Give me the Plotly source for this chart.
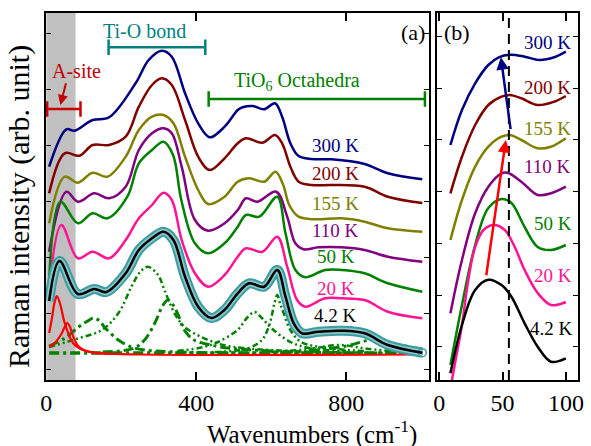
import plotly.graph_objects as go

# ---------------- Panel (a): Raman spectra (wavenumber, offset intensity) -------------
x300 = [7.4, 53.3, 75.2, 123.5, 167.5, 238, 273, 308, 334.6, 370, 405, 436, 475.5, 510.6, 523.7, 550, 581, 610, 629, 651, 673, 708, 761, 849, 911, 1003]
y300 = [213.3, 250.7, 249.3, 260, 262.7, 296.7, 320, 329.3, 323.3, 286.7, 256.7, 242.7, 253.3, 270, 272.7, 274, 270.7, 276.7, 263.3, 236.7, 224, 221, 220.7, 216, 206.7, 200.7]

x200 = [7.4, 48.8, 88.4, 123.5, 167.5, 211.6, 246.7, 281.8, 308, 334.6, 370, 405, 436, 475.5, 510.6, 532.5, 576.5, 610, 629, 651, 673, 708, 761, 849, 911, 1003]
y200 = [186.7, 226.7, 224.3, 235, 235, 243.3, 273.3, 295, 301.7, 295, 260, 223.3, 210, 221.7, 236.7, 241.7, 237.3, 245, 236.7, 213.3, 198.3, 195, 195, 193.3, 183.3, 177]

x155 = [7.4, 48.8, 84, 123.5, 163, 211.6, 246.7, 281.8, 312.5, 339, 370, 405, 431.4, 475.5, 510.6, 541.4, 581, 611.6, 632, 648, 673, 717, 787.6, 849, 911, 1003]
y155 = [156.7, 203.3, 197.3, 207.3, 203.3, 223.3, 250, 263.3, 265, 256.7, 223.3, 190, 176, 183.3, 198.3, 201.7, 198.3, 208.3, 195, 175, 163.3, 160.7, 161.7, 158.3, 151.7, 148.3]

x110 = [7.4, 53.3, 84, 128, 167.5, 211.6, 246.7, 281.8, 312.5, 334.6, 361, 396.3, 431.4, 475.5, 510.6, 532.5, 563, 613, 642.5, 664.4, 686.5, 726, 787.6, 849, 911, 1003]
y110 = [128.3, 188.3, 178.3, 186.7, 181.7, 193.3, 230, 246.7, 251.7, 246.7, 213.3, 160, 149.3, 156.7, 170, 181.7, 178.3, 188.3, 163.3, 136.7, 130.7, 132.7, 132.7, 130, 123.3, 118.3]

x50 = [7.4, 37.5, 84, 123.5, 163, 216, 246.7, 281.8, 312.5, 338, 360, 396.3, 431.4, 475.5, 510.6, 532.5, 568, 616, 638, 664.4, 690.8, 743.5, 787.6, 849, 911, 1003]
y50 = [100, 178.3, 156.7, 166.7, 161.7, 183.3, 216.7, 230, 238.3, 225, 180, 136.7, 126.7, 136.7, 153.3, 165, 163.3, 183.3, 146.7, 110, 102.7, 110, 110, 106.7, 96.7, 88.3]

x20 = [7.4, 40, 84, 123.5, 167.5, 211.6, 246.7, 281.8, 312.5, 334.6, 361, 396.3, 431.4, 475.5, 510.6, 532.5, 576.5, 616, 642.5, 669, 690.8, 743.5, 787.6, 849, 911, 1003]
y20 = [90, 155, 121.7, 128.3, 121.7, 140, 161.7, 175, 187.3, 180, 140, 106.7, 93.3, 105, 123.3, 131.7, 128.3, 143.3, 113.3, 80, 73.3, 81.7, 81.7, 80, 68.3, 61.7]

x4 = [7.4, 35, 84, 128, 160, 211.6, 246.7, 281.8, 312.5, 339, 370, 405, 440, 475, 510.6, 541.4, 581, 616, 638, 660, 682, 726, 787.6, 849, 911, 1003]
y4 = [79, 119, 86, 91, 88, 106.7, 130, 141.7, 148.3, 140, 103.3, 73.3, 62, 70, 86.7, 96.7, 93.3, 110, 83.3, 56.7, 46.7, 48.3, 49.3, 46.7, 35, 27.3]

# fit components at 4.2 K (A-site: red; TiO6 / Ti-O modes: green)
r1_x = [7.4, 15, 22, 28, 36, 49, 71, 97, 141, 250, 1003]
r1_y = [47, 62, 78, 84, 77, 57, 37, 30, 27, 25.5, 25.5]
r2_x = [7.4, 25, 40, 50, 55, 62, 71, 85, 100, 130, 200]
r2_y = [33, 38, 46, 54, 57, 54, 44, 34, 30, 27, 26]

g1_x = [7.4, 50, 86, 110, 126, 142, 157, 192, 227, 262, 350, 500, 1003]
g1_y = [34, 42, 53, 59, 62, 59, 52, 40, 33, 30, 28, 27, 26.5]
g2_x = [7.4, 86, 148, 192, 227, 250, 271, 298, 315, 342, 368, 412, 456, 500, 650, 1003]
g2_y = [33, 41.7, 50, 66.7, 93.3, 108, 113.3, 105, 90, 66.7, 53.3, 43.3, 36.7, 33, 29, 27]
g3_x = [150, 232, 262, 289, 310, 324, 338, 350, 368, 394, 438, 491, 600, 800]
g3_y = [28, 31.7, 40, 56.7, 74, 80, 75, 66.7, 50, 40, 35, 31.7, 29, 27]
g4_x = [350, 420, 458, 510, 535, 555, 575, 600, 651, 700, 800]
g4_y = [29, 33, 38, 50, 62, 68, 62, 52, 38, 32, 29]
g5_x = [450, 540, 575, 590, 600, 608, 616, 624, 634, 651, 680, 750, 850]
g5_y = [28, 32, 40, 50, 62, 76, 85, 76, 66, 50, 38, 32, 29]
g6_x = [600, 700, 780, 860, 950]
g6_y = [28, 31, 35, 31, 28]
g7_x = [700, 800, 870, 940, 1003]
g7_y = [29, 34, 40, 35, 31]
gb_x = [7.4, 1003]
gb_y = [27, 27]

# ---------------- Panel (b): low-wavenumber zoom ----------------
xb300 = [8.9, 18, 28.4, 38.8, 47, 56, 67.4, 79, 90.7, 99.9]
yb300 = [235, 270, 296.7, 315, 322.7, 325.3, 323.3, 320, 322.7, 328.3]
xb200 = [8.9, 18, 28.4, 38.8, 49.2, 55.7, 64.8, 77.7, 90.7, 99.9]
yb200 = [186.7, 223.3, 255, 275, 283.3, 285, 281.7, 275, 278.3, 284]
xb155 = [8.9, 18, 28.4, 38.8, 49.2, 55.7, 64.8, 77.7, 88.2, 99.9]
yb155 = [140, 180, 213.3, 233.3, 243.3, 245, 240, 231.7, 233.3, 241.7]
xb110 = [8.9, 18, 28.4, 38.8, 49.2, 54, 64.8, 77.7, 88.2, 99.9]
yb110 = [66.7, 120, 166.7, 193.3, 206.7, 207.3, 198.3, 185, 186.7, 193.3]
xb50 = [8.9, 18, 28.4, 38.8, 49.5, 57, 67.4, 77.7, 88.2, 99.9]
yb50 = [15, 75, 135, 172, 181, 177, 153, 133, 130, 135]
xb20 = [8.9, 13, 18, 23, 28.4, 35, 43, 51.8, 59.6, 67.4, 77.7, 88.2, 99.9]
yb20 = [-8, 20, 55, 100, 133, 150, 155, 150, 133, 110, 87, 75, 78]
xb4 = [8.9, 18, 28.4, 38.8, 49.2, 57, 67.4, 77.7, 88.2, 99.9]
yb4 = [6.7, 55, 90, 100.3, 95, 83.3, 56.7, 33.3, 18.3, 21.7]

temps = ["300 K", "200 K", "155 K", "110 K", "50 K", "20 K", "4.2 K"]
colors = ["#000080", "#800000", "#808000", "#800080", "#008000", "#ff1493", "#000000"]

# region brackets (wavenumber extents)
asite_range = [2, 91]
tio_range = [166, 424]
oct_range = [433, 1010]
band_range = [0, 78]
dash_pos = 55

FONT = "Liberation Serif"
fig = go.Figure()

# ---- components
td = "10px,4px,3px,4px"
fd = "6px,3px,2px,3px,2px,3px"
comp = [
    (gb_x, gb_y, "#008000", 3.5, td),
    (g1_x, g1_y, "#008000", 3, td),
    (g2_x, g2_y, "#008000", 2.5, fd),
    (g3_x, g3_y, "#008000", 3, td),
    (g4_x, g4_y, "#008000", 2.5, fd),
    (g5_x, g5_y, "#008000", 2.5, fd),
    (g6_x, g6_y, "#008000", 2.5, fd),
    (g7_x, g7_y, "#008000", 3, td),
    (r1_x, r1_y, "#ff0000", 2.2, "solid"),
    (r2_x, r2_y, "#ff0000", 2.2, "solid"),
]
for cx, cy, cc, w, d in comp:
    fig.add_trace(go.Scatter(x=cx, y=cy, mode="lines", xaxis="x", yaxis="y",
                             line=dict(color=cc, width=w, dash=d, shape="spline", smoothing=1.0)))

# ---- spectra panel (a)
spec_a = [(x300, y300), (x200, y200), (x155, y155), (x110, y110), (x50, y50), (x20, y20)]
for (sx, sy), c in zip(spec_a, colors[:6]):
    fig.add_trace(go.Scatter(x=sx, y=sy, mode="lines", xaxis="x", yaxis="y",
                             line=dict(color=c, width=2.5, shape="spline", smoothing=1.0)))
# 4.2 K: measured data (teal band) + fit (black)
fig.add_trace(go.Scatter(x=x4, y=y4, mode="lines", xaxis="x", yaxis="y",
                         line=dict(color="#3d9ca1", width=10, shape="spline", smoothing=1.0)))
fig.add_trace(go.Scatter(x=x4, y=y4, mode="lines", xaxis="x", yaxis="y",
                         line=dict(color="#86c6c9", width=6, shape="spline", smoothing=1.0)))
fig.add_trace(go.Scatter(x=x4[-1:], y=y4[-1:], mode="markers", xaxis="x", yaxis="y",
                         marker=dict(symbol="circle-open", size=8, color="#3d9ca1", line=dict(width=1.5))))
fig.add_trace(go.Scatter(x=x4, y=y4, mode="lines", xaxis="x", yaxis="y",
                         line=dict(color="#000000", width=2.5, shape="spline", smoothing=1.0)))

# ---- brackets
for rng, yv, c in [(asite_range, 271, "#c80000"), (tio_range, 332.7, "#008080"), (oct_range, 281, "#008000")]:
    fig.add_trace(go.Scatter(x=rng, y=[yv, yv], mode="lines+markers", xaxis="x", yaxis="y",
                             line=dict(color=c, width=2.5),
                             marker=dict(symbol="line-ns", size=11, line=dict(color=c, width=2.5))))

# ---- panel (b)
spec_b = [(xb300, yb300), (xb200, yb200), (xb155, yb155), (xb110, yb110), (xb50, yb50), (xb20, yb20), (xb4, yb4)]
for (sx, sy), c in zip(spec_b, colors):
    fig.add_trace(go.Scatter(x=sx, y=sy, mode="lines", xaxis="x2", yaxis="y2",
                             line=dict(color=c, width=2.5, shape="spline", smoothing=1.0)))
fig.add_trace(go.Scatter(x=[dash_pos, dash_pos], y=[0, 367], mode="lines", xaxis="x2", yaxis="y2",
                         line=dict(color="black", width=2, dash="10px,6px")))

# ---- shapes
fig.add_shape(type="rect", xref="x", yref="y", x0=band_range[0], x1=band_range[1], y0=0, y1=367,
              fillcolor="#c0c0c0", line=dict(width=0), layer="below")

ann = []
# curve labels
lab_a_y = [235, 206.7, 176.7, 150, 123.3, 91.7, 65]
lab_b_y = [337.7, 292.7, 251.7, 213.3, 157, 105, 51.7]
lab_b_x = [85.5, 85.5, 85.5, 85.5, 89.5, 89.5, 88.5]
for t, c, ya, yb, xb in zip(temps, colors, lab_a_y, lab_b_y, lab_b_x):
    ann.append(dict(x=772, y=ya, xref="x", yref="y", text=t, showarrow=False,
                    font=dict(size=19, color=c, family=FONT)))
    ann.append(dict(x=xb, y=yb, xref="x2", yref="y2", text=t, showarrow=False,
                    font=dict(size=19, color=c, family=FONT)))
ann += [
    dict(x=80, y=309, xref="x", yref="y", text="A-site", showarrow=False,
         font=dict(size=20, color="#c00000", family=FONT)),
    dict(x=37.5, y=275, ax=53.3, ay=298.3, xref="x", yref="y", axref="x", ayref="y", text="",
         showarrow=True, arrowhead=2, arrowsize=1, arrowwidth=2, arrowcolor="#c00000"),
    dict(x=261, y=349, xref="x", yref="y", text="Ti-O bond", showarrow=False,
         font=dict(size=20, color="#008080", family=FONT)),
    dict(x=668, y=299, xref="x", yref="y", text="TiO<sub>6</sub> Octahedra", showarrow=False,
         font=dict(size=20, color="#008000", family=FONT)),
    dict(x=977, y=347.5, xref="x", yref="y", text="(a)", showarrow=False,
         font=dict(size=22, color="black", family=FONT)),
    dict(x=14, y=347.5, xref="x2", yref="y2", text="(b)", showarrow=False,
         font=dict(size=22, color="black", family=FONT)),
    dict(x=52.6, y=240, ax=37, ay=103.3, xref="x2", yref="y2", axref="x2", ayref="y2", text="",
         showarrow=True, arrowhead=2, arrowsize=1, arrowwidth=2.5, arrowcolor="#ff0000"),
    dict(x=48.7, y=322.7, ax=56.5, ay=249.3, xref="x2", yref="y2", axref="x2", ayref="y2", text="",
         showarrow=True, arrowhead=2, arrowsize=1, arrowwidth=2.5, arrowcolor="#000080"),
    dict(x=0.5, y=-0.142, xref="paper", yref="paper", text="Wavenumbers (cm<sup>-1</sup>)",
         showarrow=False, xanchor="center", yanchor="middle", font=dict(size=25, color="black", family=FONT)),
    dict(x=-0.052, y=0.472, xref="paper", yref="paper", text="Raman intensity (arb. unit)",
         textangle=-90, showarrow=False, xanchor="center", yanchor="middle",
         font=dict(size=30, color="black", family=FONT)),
]

axis_common = dict(showgrid=False, zeroline=False, showline=True, linecolor="black", linewidth=2,
                   mirror="allticks", ticks="inside", tickcolor="black")
fig.update_layout(
    width=591, height=446, margin=dict(l=46, r=7, t=13, b=66),
    paper_bgcolor="white", plot_bgcolor="white", showlegend=False,
    xaxis=dict(domain=[0, 0.7193], range=[-1, 1020], tickvals=[0, 400, 800], ticklen=8, tickwidth=1.5,
               tickfont=dict(size=24, family=FONT, color="black"), anchor="y", **axis_common),
    xaxis2=dict(domain=[0.7342, 1], range=[-2, 109.5], tickvals=[0, 50, 100], ticklen=8, tickwidth=1.5,
                tickfont=dict(size=24, family=FONT, color="black"), anchor="y2", **axis_common),
    yaxis=dict(range=[0, 367], tick0=11, dtick=56, ticklen=5, tickwidth=1, showticklabels=False,
               anchor="x", **axis_common),
    yaxis2=dict(range=[0, 367], tick0=33.3, dtick=51.7, ticklen=5, tickwidth=1, showticklabels=False,
                anchor="x2", **axis_common),
    annotations=ann,
)

fig.write_html("out.html")
